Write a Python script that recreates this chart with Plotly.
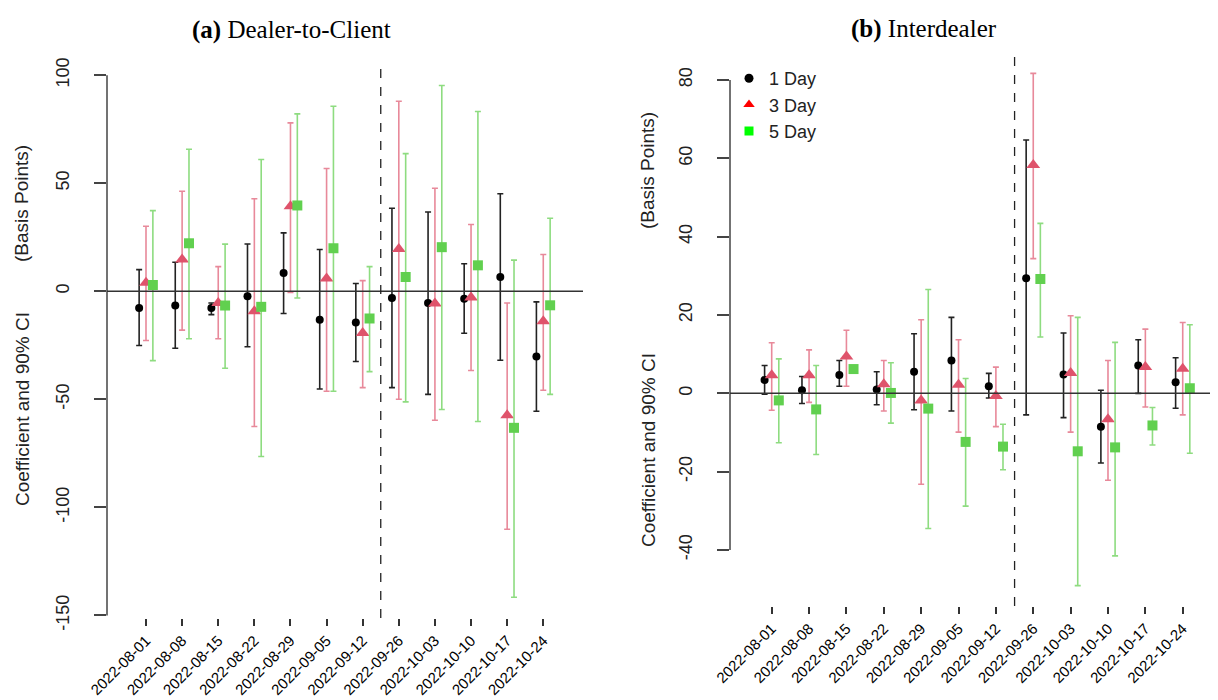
import plotly.graph_objects as go

# Weekly event dates (categorical positions 1..12)
dates = ["2022-08-01", "2022-08-08", "2022-08-15", "2022-08-22", "2022-08-29",
         "2022-09-05", "2022-09-12", "2022-09-26", "2022-10-03", "2022-10-10",
         "2022-10-17", "2022-10-24"]

# (a) Dealer-to-Client: coefficient and 90% CI bounds, basis points
d2c_1d_est = [-7.7, -6.6, -7.8, -2.3, 8.5, -13.2, -14.5, -3.1, -5.4, -3.5, 6.6, -30.2]
d2c_1d_lo = [-25.1, -26.4, -10.8, -25.7, -10.3, -45.2, -32.5, -44.6, -47.7, -19.4, -31.9, -55.5]
d2c_1d_hi = [10.0, 13.4, -5.4, 21.9, 27.0, 19.3, 3.6, 38.4, 36.7, 12.7, 45.1, -4.9]
d2c_3d_est = [3.9, 14.7, -5.4, -9.2, 39.3, 5.9, -19.3, 19.6, -5.7, -2.9, -57.4, -13.9]
d2c_3d_lo = [-22.8, -18.0, -22.0, -62.6, -0.5, -46.3, -44.6, -50.0, -59.7, -36.7, -110.1, -45.8]
d2c_3d_hi = [30.1, 46.3, 11.4, 42.8, 77.9, 56.8, 4.9, 87.9, 47.7, 30.9, -5.4, 17.0]
d2c_5d_est = [2.9, 22.2, -6.6, -7.2, 39.7, 19.9, -12.6, 6.6, 20.4, 12.0, -63.2, -6.5]
d2c_5d_lo = [-32.1, -22.0, -35.6, -76.5, -3.1, -46.3, -37.2, -51.2, -54.7, -60.3, -141.6, -47.7]
d2c_5d_hi = [37.3, 65.7, 21.8, 61.0, 82.1, 85.6, 11.4, 63.7, 95.2, 83.2, 14.4, 33.8]

# (b) Interdealer
id_1d_est = [3.4, 0.8, 4.7, 1.0, 5.5, 8.4, 1.8, 29.4, 4.8, -8.5, 7.1, 2.8]
id_1d_lo = [-0.2, -2.6, 1.8, -2.9, -4.2, -4.5, -1.2, -5.5, -6.2, -17.8, 0.0, -3.8]
id_1d_hi = [7.1, 4.3, 8.4, 5.5, 15.2, 19.4, 5.1, 64.7, 15.4, 0.8, 13.7, 9.1]
id_3d_est = [4.6, 4.6, 9.4, 2.3, -1.8, 2.2, -0.7, 58.3, 5.2, -6.6, 6.7, 6.3]
id_3d_lo = [-4.3, -2.3, 1.8, -4.5, -23.2, -9.9, -8.5, 34.4, -9.9, -22.2, -3.5, -5.5]
id_3d_hi = [12.9, 11.1, 16.1, 8.4, 18.8, 13.7, 6.7, 81.7, 19.8, 8.4, 16.4, 18.1]
id_5d_est = [-1.8, -4.1, 6.2, 0.1, -3.9, -12.4, -13.6, 29.2, -14.8, -13.8, -8.2, 1.3]
id_5d_lo = [-12.6, -15.6, 5.4, -7.6, -34.5, -28.8, -19.5, 14.4, -49.1, -41.5, -13.2, -15.3]
id_5d_hi = [8.8, 7.1, 7.0, 7.8, 26.5, 3.8, -7.9, 43.4, 19.4, 13.0, -3.6, 17.5]

# y tick values per panel
ticks_a = [-150, -100, -50, 0, 50, 100]
ticks_b = [-40, -20, 0, 20, 40, 60, 80]

horizons = ["1 Day", "3 Day", "5 Day"]
point_colors = ["#000000", "#DF536B", "#61D04F"]
bar_colors = ["#222222", "#E8899A", "#8EDC80"]
legend_colors = ["#000000", "#FF0000", "#00FF00"]
symbols = ["circle", "triangle-up", "square"]
sizes = [8, 12, 10]
offsets = [-0.19, 0.0, 0.19]

W, H = 1218, 700
SANS = "Liberation Sans, Arial, sans-serif"
SERIF = "Liberation Serif, Times New Roman, serif"

fig = go.Figure()


def add_panel(series, xa, ya):
    for k, (est, lo, hi) in enumerate(series):
        xs = [i + 1 + offsets[k] for i in range(len(dates))]
        fig.add_trace(go.Scatter(
            x=xs, y=est, mode="markers", xaxis=xa, yaxis=ya, showlegend=False,
            marker=dict(symbol=symbols[k], size=sizes[k], color=point_colors[k]),
            error_y=dict(type="data", symmetric=False,
                         array=[h - e for h, e in zip(hi, est)],
                         arrayminus=[e - l for e, l in zip(est, lo)],
                         color=bar_colors[k], thickness=1.6, width=3),
        ))


add_panel([(d2c_1d_est, d2c_1d_lo, d2c_1d_hi),
           (d2c_3d_est, d2c_3d_lo, d2c_3d_hi),
           (d2c_5d_est, d2c_5d_lo, d2c_5d_hi)], "x", "y")
add_panel([(id_1d_est, id_1d_lo, id_1d_hi),
           (id_3d_est, id_3d_lo, id_3d_hi),
           (id_5d_est, id_5d_lo, id_5d_hi)], "x2", "y2")

# legend entries (panel b)
for k, name in enumerate(horizons):
    fig.add_trace(go.Scatter(
        x=[None], y=[None], mode="markers", name=name, xaxis="x2", yaxis="y2",
        marker=dict(symbol=symbols[k], size=[9, 10, 9][k], color=legend_colors[k]),
    ))


def px_x(p):
    return p / W


def px_y(p):
    return 1 - p / H


xcommon = dict(tickvals=list(range(1, 13)), ticktext=dates, tickangle=-45,
               ticks="outside", ticklen=7, tickwidth=1.5, tickcolor="#333333",
               showgrid=False, zeroline=False, showline=False, automargin=False,
               tickfont=dict(family=SANS, size=15, color="#000000"))
ycommon = dict(tickangle=-90, ticks="outside", ticklen=12, tickwidth=1.5,
               tickcolor="#444444", showgrid=False, zeroline=False, showline=False,
               automargin=False, ticklabelstandoff=18,
               tickfont=dict(family=SANS, size=18, color="#222222"))

fig.update_layout(
    width=W, height=H, margin=dict(l=0, r=0, t=0, b=0),
    paper_bgcolor="white", plot_bgcolor="white", template="none",
    xaxis=dict(domain=[px_x(107), px_x(583)], range=[-0.08, 13.1], anchor="y", **xcommon),
    yaxis=dict(domain=[px_y(618), px_y(65)], range=[-151.2, 104.7], anchor="x",
               tickvals=ticks_a, ticktext=[str(t) for t in ticks_a], **ycommon),
    xaxis2=dict(domain=[px_x(730), px_x(1210)], range=[-0.116, 12.73], anchor="y2", **xcommon),
    yaxis2=dict(domain=[px_y(606), px_y(53)], range=[-54.3, 86.9], anchor="x2",
                tickvals=ticks_b, ticktext=[str(t) for t in ticks_b], **ycommon),
    legend=dict(x=px_x(729), y=px_y(60), xanchor="left", yanchor="top",
                bgcolor="rgba(0,0,0,0)", font=dict(family=SANS, size=18, color="#222222"),
                tracegroupgap=0, itemwidth=30),
    showlegend=True,
)

shapes = []
for xa, ya, ticks in [("x", "y", ticks_a), ("x2", "y2", ticks_b)]:
    # y axis spine across the tick range
    shapes.append(dict(type="line", xref=f"{xa} domain", yref=ya, x0=0, x1=0,
                       y0=min(ticks), y1=max(ticks), line=dict(color="#444444", width=1.5)))
    # zero reference line
    shapes.append(dict(type="line", xref=f"{xa} domain", yref=ya, x0=0, x1=1, y0=0, y1=0,
                       line=dict(color="#333333", width=1.5)))
    # break between the two periods
    shapes.append(dict(type="line", xref=xa, yref=f"{ya} domain", x0=7.5, x1=7.5, y0=0, y1=1,
                       line=dict(color="#222222", width=1.3, dash="dash")))
fig.update_layout(shapes=shapes)


def label(text, x, y, font):
    return dict(text=text, x=px_x(x), y=px_y(y), xref="paper", yref="paper",
                xanchor="center", yanchor="middle", showarrow=False, font=font)


title_font = dict(family=SERIF, size=25, color="#000000")
ylab_font = dict(family=SANS, size=19, color="#222222")
annotations = [
    label("<b>(a)</b> Dealer-to-Client", 291, 30, title_font),
    label("<b>(b)</b> Interdealer", 924, 29, title_font),
]
for x, y_main, y_unit in [(22, 409, 204), (648, 450, 171)]:
    a = label("Coefficient and 90% CI", x, y_main, ylab_font)
    a["textangle"] = -90
    b = label("(Basis Points)", x, y_unit, ylab_font)
    b["textangle"] = -90
    annotations += [a, b]
fig.update_layout(annotations=annotations)

fig.write_html("out.html")
